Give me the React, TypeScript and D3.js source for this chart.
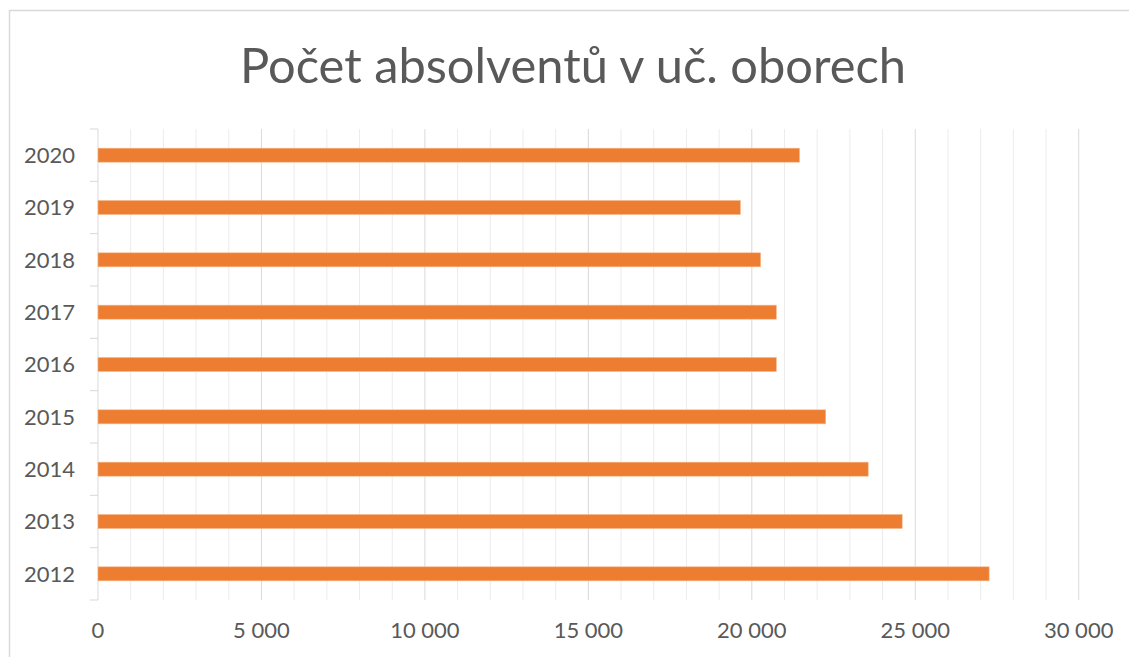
import React from "react";
import * as d3 from "d3";

const years = ["2020", "2019", "2018", "2017", "2016", "2015", "2014", "2013", "2012"];
const graduates = [21460, 19650, 20270, 20750, 20750, 22260, 23560, 24600, 27260];
const majorTicks = [0, 5000, 10000, 15000, 20000, 25000, 30000];
const minorTicks = d3.range(0, 31000, 1000);
const title = "Počet absolventů v uč. oborech";

const W = 1129;
const H = 657;
const font = "Lato, 'Open Sans', sans-serif";

export default function App() {
  const x = d3.scaleLinear().domain([0, 30000]).range([98, 1078.7]);
  const y = d3.scaleBand<string>().domain(years).range([129, 600]).paddingInner(0).paddingOuter(0);
  const barH = 14;
  const fmt = (v: number) => d3.format(",")(v).replace(/,/g, " ");
  const boundaries = d3.range(0, years.length + 1).map((i) => 129 + i * y.bandwidth());

  return (
    <div style={{ position: "absolute", left: 0, top: 0 }}>
      <svg width={W} height={H} style={{ display: "block", background: "#fff" }}>
        <rect x={9.5} y={10.5} width={W} height={H} fill="#fff" stroke="#d9d9d9" strokeWidth={1.5} />
        <text
          x={573}
          y={83}
          textAnchor="middle"
          fontFamily={font}
          fontSize={48}
          fill="#595959"
          textLength={666}
          lengthAdjust="spacingAndGlyphs"
        >
          {title}
        </text>
        {minorTicks
          .filter((t) => t % 5000 !== 0)
          .map((t) => (
            <line key={"mi" + t} x1={x(t)} x2={x(t)} y1={129} y2={600} stroke="#ececec" strokeWidth={1} />
          ))}
        {majorTicks
          .filter((t) => t !== 0)
          .map((t) => (
            <line key={"ma" + t} x1={x(t)} x2={x(t)} y1={129} y2={600} stroke="#d9d9d9" strokeWidth={1} />
          ))}
        <line x1={x(0)} x2={x(0)} y1={129} y2={600} stroke="#d9d9d9" strokeWidth={1} />
        {boundaries.map((b, i) => (
          <line key={"tk" + i} x1={90} x2={x(0)} y1={b} y2={b} stroke="#d9d9d9" strokeWidth={1} />
        ))}
        {years.map((yr, i) => (
          <rect
            key={yr}
            x={x(0)}
            y={(y(yr) as number) + y.bandwidth() / 2 - barH / 2}
            width={x(graduates[i]) - x(0)}
            height={barH}
            fill="#ED7D31"
            stroke="#f6b68a"
            strokeWidth={0.6}
          />
        ))}
        {years.map((yr) => (
          <text
            key={"l" + yr}
            x={75}
            y={(y(yr) as number) + y.bandwidth() / 2}
            dy="0.36em"
            textAnchor="end"
            fontFamily={font}
            fontSize={22}
            fill="#595959"
          >
            {yr}
          </text>
        ))}
        {majorTicks.map((t) => (
          <text
            key={"x" + t}
            x={x(t)}
            y={638}
            textAnchor="middle"
            fontFamily={font}
            fontSize={22}
            fill="#595959"
          >
            {fmt(t)}
          </text>
        ))}
      </svg>
    </div>
  );
}
